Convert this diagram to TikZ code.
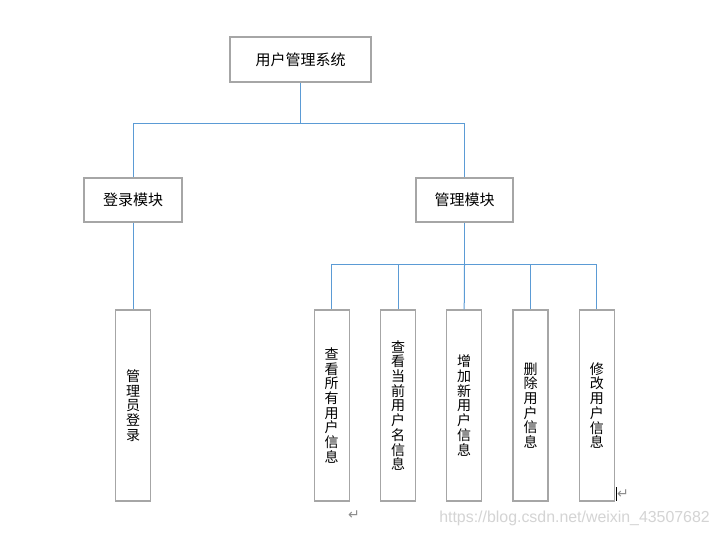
\documentclass[tikz,border=0pt]{standalone}
\usepackage{fontspec}
\setmainfont{Liberation Sans}
\newfontfamily\cjk{Noto Sans CJK SC}
\newfontfamily\symf{DejaVu Sans}
\definecolor{boxgray}{HTML}{A6A6A6}
\definecolor{linkblue}{HTML}{5B9BD5}
\definecolor{markgray}{HTML}{8C8C8C}
\definecolor{wmgray}{HTML}{D4D4D4}
\begin{document}
\begin{tikzpicture}[x=1pt,y=-1pt,
  box/.style={draw=boxgray,line width=1.1pt,fill=white,inner sep=0pt,align=center},
  hbox/.style={box,font=\cjk\fontsize{15}{16.7}\selectfont},
  vbox/.style={box,font=\cjk\fontsize{14}{14.7}\selectfont,minimum width=35pt,minimum height=191pt},
  link/.style={draw=linkblue,line width=1pt}]
\useasboundingbox (0,0) rectangle (720,537);
\fill[white] (0,0) rectangle (720,537);
% top level
\node[hbox,minimum width=141pt,minimum height=45pt] (top) at (300.5,59.5) {用户管理系统};
\node[hbox,minimum width=98pt,minimum height=44pt] (login) at (133,200) {登录模块};
\node[hbox,minimum width=97pt,minimum height=44pt] (manage) at (464.5,200) {管理模块};
% leaves
\node[vbox] (admin) at (133,405.5) {管\\理\\员\\登\\录};
\node[vbox] (v1) at (331.7,405.5) {查\\看\\所\\有\\用\\户\\信\\息};
\node[vbox] (v2) at (398,405.5) {查\\看\\当\\前\\用\\户\\名\\信\\息};
\node[vbox] (v3) at (464.2,405.5) {增\\加\\新\\用\\户\\信\\息};
\node[vbox] (v4) at (530.5,405.5) {删\\除\\用\\户\\信\\息};
\node[vbox] (v5) at (596.8,405.5) {修\\改\\用\\户\\信\\息};
% buses
\coordinate (bus1) at (300,124);
\coordinate (bus2) at (464,265);
\draw[link] (top.south) -- (top.south |- bus1) -| (login.north);
\draw[link] (top.south |- bus1) -| (manage.north);
\draw[link] (login.south) -- (admin.north);
\draw[link] (manage.south) -- (manage.south |- bus2) -| (v1.north);
\draw[link] (manage.south |- bus2) -| (v2.north);
\draw[link] (manage.south |- bus2) -- (v3.north);
\draw[link] (manage.south |- bus2) -| (v4.north);
\draw[link] (manage.south |- bus2) -| (v5.north);
% paragraph marks and cursor
\node[font=\symf\fontsize{14}{14}\selectfont,text=markgray,inner sep=0pt] (pm1) at (354,515) {↵};
\node[font=\symf\fontsize{14}{14}\selectfont,text=markgray,inner sep=0pt] (pm2) at (623,494) {↵};
\coordinate (cur1) at (616,487);
\coordinate (cur2) at (616,501);
\draw[black,line width=0.8pt] (cur1) -- (cur2);
% watermark
\node[font=\fontsize{15.9}{16}\selectfont,text=wmgray,anchor=east,inner sep=0pt] (wm) at (710,518) {https://blog.csdn.net/weixin\_43507682};
\end{tikzpicture}
\end{document}
